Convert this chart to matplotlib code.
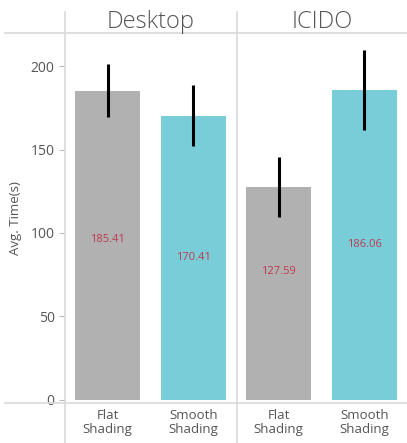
import numpy as np
import matplotlib.pyplot as plt
from matplotlib.lines import Line2D

# data
groups = ['Desktop', 'ICIDO']
conditions = ['Flat\nShading', 'Smooth\nShading']
means = [185.41, 170.41, 127.59, 186.06]
errors = [16, 18.5, 18, 24]
label_pos = [96, 85, 77, 93]
bar_colors = ['#b1b1b1', '#79cdd9', '#b1b1b1', '#79cdd9']

plt.rcParams['font.family'] = ['Open Sans', 'DejaVu Sans']

W, H = 407, 443
fig = plt.figure(figsize=(W / 100, H / 100), dpi=100)
# axes spans pixel x 65..407, y 33..403
ax = fig.add_axes([65 / W, 1 - 403 / H, (407 - 65) / W, (403 - 33) / H])

x = np.arange(len(means))
ax.bar(x, means, width=0.76, color=bar_colors, zorder=2)
ax.errorbar(x, means, yerr=errors, fmt='none', ecolor='black', elinewidth=2.2,
            capsize=0, zorder=3)
for xi, m, ly in zip(x, means, label_pos):
    ax.text(xi, ly, f'{m:.2f}', ha='center', va='center', color='#c0394f', fontsize=8)

ax.set_xlim(-0.5, 3.5)
ax.set_ylim(-2, 220)
ax.set_yticks([0, 50, 100, 150, 200])
ax.set_xticks(x)
ax.set_xticklabels(conditions * 2, linespacing=1.15)
ax.tick_params(axis='y', colors='#bbbbbb', labelcolor='#555555', labelsize=10, length=4, width=0.8)
ax.tick_params(axis='x', length=0, labelcolor='#555555', labelsize=9.5, pad=4)
ax.set_ylabel('Avg. Time(s)', color='#555555', fontsize=9.5, labelpad=6)
for s in ax.spines.values():
    s.set_visible(False)

# facet lines
lc = '#d9d9d9'
fig.add_artist(Line2D([5 / W, 1], [1 - 33 / H] * 2, color=lc, lw=1.2))
fig.add_artist(Line2D([5 / W, 1], [1 - 403 / H] * 2, color=lc, lw=1.2))
for px in [65, 237]:
    fig.add_artist(Line2D([px / W] * 2, [0, 1 - 12 / H], color=lc, lw=1.2))

# facet titles
fig.text(151 / W, 1 - 22 / H, groups[0], ha='center', va='center', fontsize=17,
         color='#555555', fontweight='light')
fig.text(322 / W, 1 - 22 / H, groups[1], ha='center', va='center', fontsize=17,
         color='#555555', fontweight='light')

fig.savefig('out.png', dpi=100)
